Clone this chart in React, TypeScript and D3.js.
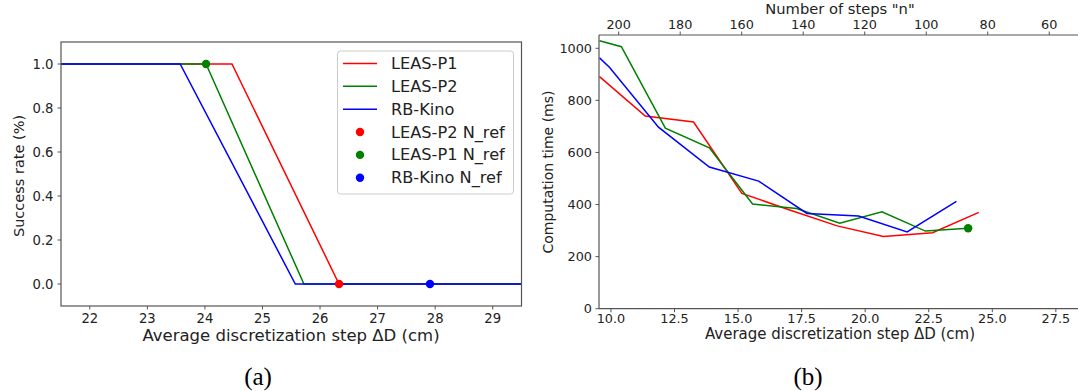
import React from 'react';
import * as d3 from 'd3';

// ---------- Left panel (a) data ----------
const leftXTicks = [22, 23, 24, 25, 26, 27, 28, 29];
const leftYTicks = [0, 0.2, 0.4, 0.6, 0.8, 1.0];
const successP1X = [21.5, 24.47, 26.33, 29.5];
const successP1Y = [1, 1, 0, 0];
const successP2X = [21.5, 24.02, 25.72, 29.5];
const successP2Y = [1, 1, 0, 0];
const successKinoX = [21.5, 23.57, 25.57, 29.5];
const successKinoY = [1, 1, 0, 0];
const nrefLabels = ['LEAS-P2 N_ref', 'LEAS-P1 N_ref', 'RB-Kino N_ref'];
const nrefX = [26.33, 24.02, 27.91];
const nrefY = [0, 1.0, 0];
const nrefColors = ['red', 'green', 'blue'];
const seriesLabels = ['LEAS-P1', 'LEAS-P2', 'RB-Kino'];
const seriesColors = ['red', 'green', 'blue'];

// ---------- Right panel (b) data ----------
const rightXTicks = [10.0, 12.5, 15.0, 17.5, 20.0, 22.5, 25.0, 27.5];
const rightYTicks = [0, 200, 400, 600, 800, 1000];
const topNTicks = [200, 180, 160, 140, 120, 100, 80, 60];
const timeP1X = [9.55, 11.35, 13.25, 15.15, 17.0, 18.9, 20.72, 22.65, 24.47];
const timeP1Y = [891, 740, 717, 443, 380, 318, 277, 292, 370];
const timeP2X = [9.55, 10.41, 12.14, 13.87, 15.57, 17.3, 19.0, 20.66, 22.37, 24.05];
const timeP2Y = [1029, 1006, 693, 618, 402, 385, 328, 372, 298, 309];
const timeKinoX = [9.55, 9.94, 11.87, 13.87, 15.81, 17.71, 19.74, 21.65, 23.59];
const timeKinoY = [963, 927, 697, 544, 490, 366, 356, 295, 412];
const timeRefX = [24.05];
const timeRefY = [309];

const FONT = 'DejaVu Sans, sans-serif';
const SPINE = '#555';
const TXT = '#222';

function zip(xs: number[], ys: number[]): [number, number][] {
  return xs.map((x, i) => [x, ys[i]]);
}

export default function App() {
  // Left scales
  const lx = d3.scaleLinear().domain([21.5, 29.5]).range([61, 521.5]);
  const ly = d3.scaleLinear().domain([-0.1, 1.1]).range([306, 42]);
  const lline = d3.line<[number, number]>().x(d => lx(d[0])).y(d => ly(d[1]));

  // Right scales
  const rx = d3.scaleLinear().domain([9.53, 28.45]).range([599, 1080]);
  const ry = d3.scaleLinear().domain([0, 1051]).range([308.7, 35]);
  const rn = d3.scaleLinear().domain([206.4, 50]).range([599, 1080]);
  const rline = d3.line<[number, number]>().x(d => rx(d[0])).y(d => ry(d[1]));

  const leftSeries = [
    zip(successP1X, successP1Y),
    zip(successP2X, successP2Y),
    zip(successKinoX, successKinoY),
  ];
  const rightSeries = [
    zip(timeP1X, timeP1Y),
    zip(timeP2X, timeP2Y),
    zip(timeKinoX, timeKinoY),
  ];

  const legendRows = [...seriesLabels, ...nrefLabels];

  return (
    <svg width={1078} height={391} style={{ position: 'absolute', left: 0, top: 0, background: '#fff' }}
      fontFamily={FONT}>
      <defs>
        <clipPath id="clipL">
          <rect x={61} y={42} width={460.5} height={264} />
        </clipPath>
        <clipPath id="clipR">
          <rect x={599} y={35} width={481} height={273.7} />
        </clipPath>
      </defs>
      <rect x={0} y={0} width={1078} height={391} fill="#fff" />

      {/* ===== Left panel ===== */}
      <g clipPath="url(#clipL)">
        {leftSeries.map((s, i) => (
          <path key={i} d={lline(s) || ''} fill="none" stroke={seriesColors[i]} strokeWidth={1.5} />
        ))}
        {nrefX.map((x, i) => (
          <circle key={i} cx={lx(x)} cy={ly(nrefY[i])} r={4.2} fill={nrefColors[i]} />
        ))}
      </g>
      <rect x={61} y={42} width={460.5} height={264} fill="none" stroke={SPINE} strokeWidth={1.2} />
      {leftXTicks.map(t => (
        <g key={t}>
          <line x1={lx(t)} x2={lx(t)} y1={306} y2={309.5} stroke={SPINE} />
          <text x={lx(t)} y={318} textAnchor="middle" dominantBaseline="central" fontSize={13.2} fill={TXT}>{t}</text>
        </g>
      ))}
      {leftYTicks.map(t => (
        <g key={t}>
          <line x1={57.5} x2={61} y1={ly(t)} y2={ly(t)} stroke={SPINE} />
          <text x={53.5} y={ly(t)} textAnchor="end" dominantBaseline="central" fontSize={13.2} fill={TXT}>{t.toFixed(1)}</text>
        </g>
      ))}
      <text x={291} y={335} textAnchor="middle" dominantBaseline="central" fontSize={16.5} fill={TXT}>Average discretization step ΔD (cm)</text>
      <text transform={`translate(19,${176}) rotate(-90)`} textAnchor="middle" dominantBaseline="central" fontSize={14.5} fill={TXT}>Success rate (%)</text>

      {/* Legend */}
      <rect x={337.5} y={51} width={176} height={143} rx={3} fill="#fff" fillOpacity={0.8} stroke="#ccc" strokeWidth={1} />
      {legendRows.map((lab, i) => {
        const y = 63.5 + i * 22.85;
        return (
          <g key={lab}>
            {i < 3 ? (
              <line x1={343} x2={377} y1={y} y2={y} stroke={seriesColors[i]} strokeWidth={1.5} />
            ) : (
              <circle cx={360} cy={y} r={4.2} fill={nrefColors[i - 3]} />
            )}
            <text x={391} y={y} dominantBaseline="central" fontSize={16.2} fill={TXT}>{lab}</text>
          </g>
        );
      })}

      {/* ===== Right panel ===== */}
      <g clipPath="url(#clipR)">
        {rightSeries.map((s, i) => (
          <path key={i} d={rline(s) || ''} fill="none" stroke={seriesColors[i]} strokeWidth={1.5} />
        ))}
        {timeRefX.map((x, i) => (
          <circle key={i} cx={rx(x)} cy={ry(timeRefY[i])} r={4.2} fill="green" />
        ))}
      </g>
      <line x1={599} x2={599} y1={35} y2={308.7} stroke={SPINE} strokeWidth={1.2} />
      <line x1={599} x2={1080} y1={308.7} y2={308.7} stroke={SPINE} strokeWidth={1.2} />
      <line x1={599} x2={1080} y1={35} y2={35} stroke={SPINE} strokeWidth={1.2} />
      {rightXTicks.map(t => (
        <g key={t}>
          <line x1={rx(t)} x2={rx(t)} y1={308.7} y2={312.2} stroke={SPINE} />
          <text x={rx(t)} y={318} textAnchor="middle" dominantBaseline="central" fontSize={12.8} fill={TXT}>{t.toFixed(1)}</text>
        </g>
      ))}
      {rightYTicks.map(t => (
        <g key={t}>
          <line x1={595.5} x2={599} y1={ry(t)} y2={ry(t)} stroke={SPINE} />
          <text x={592} y={ry(t)} textAnchor="end" dominantBaseline="central" fontSize={12.8} fill={TXT}>{t}</text>
        </g>
      ))}
      {topNTicks.map(t => (
        <g key={t}>
          <line x1={rn(t)} x2={rn(t)} y1={31.5} y2={35} stroke={SPINE} />
          <text x={rn(t)} y={24} textAnchor="middle" dominantBaseline="central" fontSize={12.8} fill={TXT}>{t}</text>
        </g>
      ))}
      <text x={840} y={334} textAnchor="middle" dominantBaseline="central" fontSize={15} fill={TXT}>Average discretization step ΔD (cm)</text>
      <text x={840} y={8} textAnchor="middle" dominantBaseline="central" fontSize={14.7} fill={TXT}>Number of steps "n"</text>
      <text transform={`translate(548,${172}) rotate(-90)`} textAnchor="middle" dominantBaseline="central" fontSize={14} fill={TXT}>Computation time (ms)</text>

      {/* Panel captions */}
      <text x={258} y={376} textAnchor="middle" dominantBaseline="central" fontSize={25} fontFamily="Liberation Serif, serif" fill="#000">(a)</text>
      <text x={808} y={376} textAnchor="middle" dominantBaseline="central" fontSize={25} fontFamily="Liberation Serif, serif" fill="#000">(b)</text>
    </svg>
  );
}
